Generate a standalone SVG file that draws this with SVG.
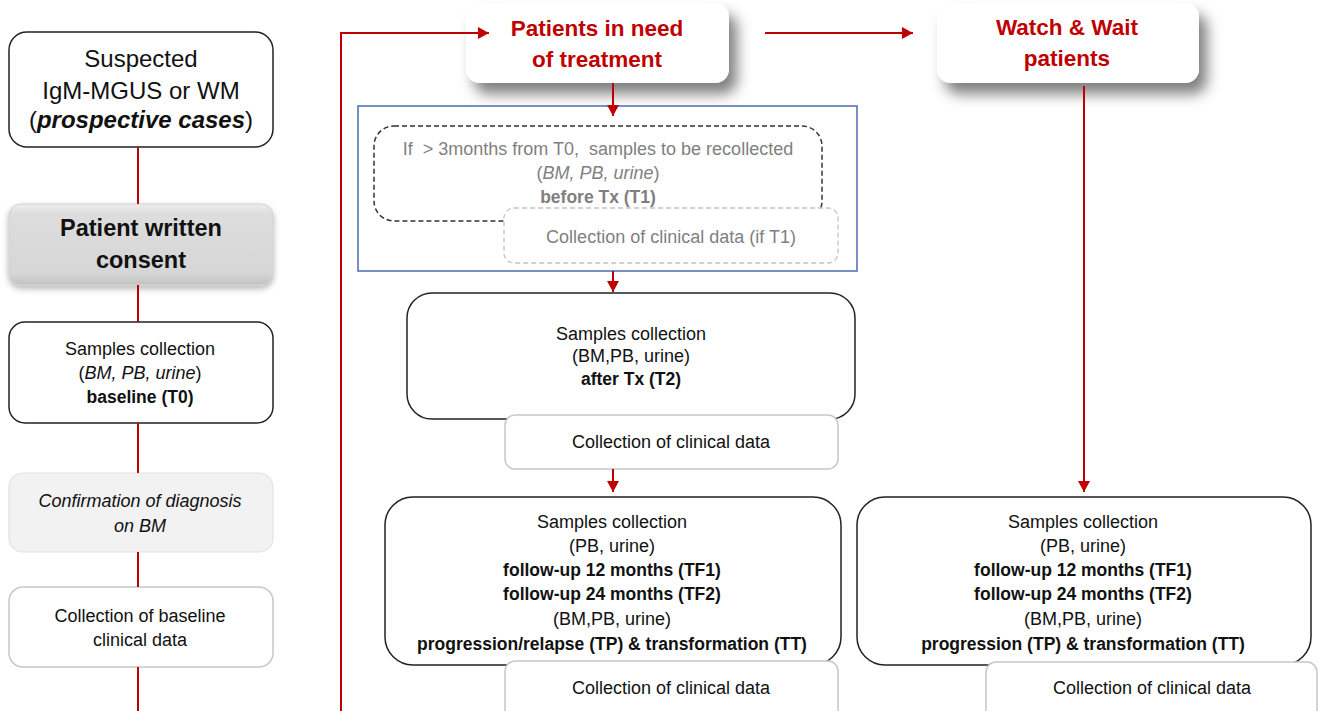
<svg xmlns="http://www.w3.org/2000/svg" width="1318" height="711" viewBox="0 0 1318 711">
<defs>
<style>
text{font-family:"Liberation Sans",Arial,sans-serif;text-anchor:middle;fill:#111}
.t24{font-size:24px}
.t18{font-size:18px}
.b{font-weight:bold}
.bs{font-weight:bold;font-size:17.5px}
.it{font-style:italic}
.red{fill:#c00000;font-weight:bold;font-size:22.5px}
.gray{fill:#7f7f7f}
.box{fill:#fff;stroke:#222;stroke-width:1.5}
.soft{fill:#fff;stroke:#c8c8c8;stroke-width:1.5}
.conn{stroke:#c00000;stroke-width:2;fill:none}
</style>
<marker id="ah" markerUnits="userSpaceOnUse" markerWidth="12" markerHeight="12" refX="11" refY="6" orient="auto">
<path d="M0,0 L11,6 L0,12 z" fill="#c00000"/>
</marker>
<filter id="sh" x="-20%" y="-30%" width="150%" height="200%">
<feDropShadow dx="8" dy="11" stdDeviation="7" flood-color="#000" flood-opacity="0.5"/>
</filter>
<filter id="sh2" x="-10%" y="-20%" width="130%" height="160%">
<feDropShadow dx="0" dy="3" stdDeviation="3" flood-color="#000" flood-opacity="0.3"/>
</filter>
<linearGradient id="gg" x1="0" y1="0" x2="0" y2="1">
<stop offset="0" stop-color="#eeeeee"/>
<stop offset="0.12" stop-color="#dddddd"/>
<stop offset="0.85" stop-color="#d6d6d6"/>
<stop offset="1" stop-color="#c2c2c2"/>
</linearGradient>
</defs>

<g id="suspected">
<rect class="box" x="9" y="32" width="264" height="115" rx="18"/>
<text class="t24" x="141" y="67">Suspected</text>
<text class="t24" x="141" y="99">IgM-MGUS or WM</text>
<text class="t24" x="141" y="128">(<tspan class="b it">prospective cases</tspan>)</text>
</g>

<g id="consent">
<rect x="9" y="204" width="264" height="81" rx="12" fill="url(#gg)" stroke="#d0d0d0" stroke-width="1" filter="url(#sh2)"/>
<text class="b" style="font-size:23.5px" x="141" y="236">Patient written</text>
<text class="b" style="font-size:23.5px" x="141" y="268">consent</text>
</g>

<g id="baseline-samples">
<rect class="box" x="9" y="322" width="264" height="101" rx="16"/>
<text class="t18" x="140" y="355">Samples collection</text>
<text class="t18" x="140" y="379">(<tspan class="it">BM, PB, urine</tspan>)</text>
<text class="bs" x="140" y="403">baseline (T0)</text>
</g>

<g id="confirmation">
<rect x="9" y="473" width="264" height="79" rx="14" fill="#f2f2f2" stroke="#e2e2e2" stroke-width="1.2"/>
<text class="t18 it" x="140" y="507">Confirmation of diagnosis</text>
<text class="t18 it" x="140" y="532">on BM</text>
</g>

<g id="baseline-clinical">
<rect class="soft" x="9" y="587" width="264" height="80" rx="14"/>
<text class="t18" x="140" y="622">Collection of baseline</text>
<text class="t18" x="140" y="646">clinical data</text>
</g>

<g id="patients-treatment">
<rect x="466" y="3" width="263" height="80" rx="14" fill="#fff" filter="url(#sh)"/>
<text class="red" x="597" y="36">Patients in need</text>
<text class="red" x="597" y="67">of treatment</text>
</g>

<g id="watch-wait">
<rect x="937" y="3" width="262" height="80" rx="14" fill="#fff" filter="url(#sh)"/>
<text class="red" x="1067" y="35">Watch &amp; Wait</text>
<text class="red" x="1067" y="66">patients</text>
</g>

<g id="t1-group">
<rect x="358" y="106" width="499" height="165" fill="#fff" stroke="#4a6cb0" stroke-width="1.5"/>
<rect x="374" y="126" width="448" height="95" rx="20" fill="none" stroke="#333" stroke-width="1.5" stroke-dasharray="5,3"/>
<text class="t18 gray" x="598" y="155" xml:space="preserve">If  &gt; 3months from T0,  samples to be recollected</text>
<text class="t18 gray" x="598" y="179">(<tspan class="it">BM, PB, urine</tspan>)</text>
<text class="bs gray" x="598" y="203">before Tx (T1)</text>
<rect x="504" y="208" width="334" height="55" rx="10" fill="#fff" stroke="#c4c4c4" stroke-width="1.3" stroke-dasharray="5,3"/>
<text class="t18 gray" x="671" y="243">Collection of clinical data (if T1)</text>
</g>

<g id="t2">
<rect class="box" x="407" y="293" width="448" height="126" rx="25"/>
<text class="t18" x="631" y="340">Samples collection</text>
<text class="t18" x="631" y="362">(BM,PB, urine)</text>
<text class="bs" x="631" y="385">after Tx (T2)</text>
</g>

<g id="t2-clinical">
<rect class="soft" x="505" y="415" width="333" height="54" rx="10"/>
<text class="t18" x="671" y="448">Collection of clinical data</text>
</g>

<g id="followup-treated">
<rect class="box" x="385" y="497" width="456" height="168" rx="28"/>
<text class="t18" x="612" y="528">Samples collection</text>
<text class="t18" x="612" y="552">(PB, urine)</text>
<text class="bs" x="612" y="576">follow-up 12 months (TF1)</text>
<text class="bs" x="612" y="600">follow-up 24 months (TF2)</text>
<text class="t18" x="612" y="625">(BM,PB, urine)</text>
<text class="bs" x="612" y="650">progression/relapse (TP) &amp; transformation (TT)</text>
</g>

<g id="followup-treated-clinical">
<rect class="soft" x="505" y="661" width="333" height="70" rx="10"/>
<text class="t18" x="671" y="694">Collection of clinical data</text>
</g>

<g id="followup-ww">
<rect class="box" x="857" y="497" width="454" height="168" rx="28"/>
<text class="t18" x="1083" y="528">Samples collection</text>
<text class="t18" x="1083" y="552">(PB, urine)</text>
<text class="bs" x="1083" y="576">follow-up 12 months (TF1)</text>
<text class="bs" x="1083" y="600">follow-up 24 months (TF2)</text>
<text class="t18" x="1083" y="625">(BM,PB, urine)</text>
<text class="bs" x="1083" y="650">progression (TP) &amp; transformation (TT)</text>
</g>

<g id="followup-ww-clinical">
<rect class="soft" x="986" y="662" width="331" height="70" rx="10"/>
<text class="t18" x="1152" y="694">Collection of clinical data</text>
</g>

<g id="connectors">
<line class="conn" x1="138" y1="147" x2="138" y2="204"/>
<line class="conn" x1="138" y1="285" x2="138" y2="322"/>
<line class="conn" x1="138" y1="423" x2="138" y2="473"/>
<line class="conn" x1="138" y1="552" x2="138" y2="587"/>
<line class="conn" x1="138" y1="667" x2="138" y2="711"/>
<polyline class="conn" points="341,711 341,33 489,33" marker-end="url(#ah)"/>
<line class="conn" x1="765" y1="33" x2="913" y2="33" marker-end="url(#ah)"/>
<line class="conn" x1="613" y1="83" x2="613" y2="116" marker-end="url(#ah)"/>
<line class="conn" x1="613" y1="271" x2="613" y2="292" marker-end="url(#ah)"/>
<line class="conn" x1="613" y1="469" x2="613" y2="492" marker-end="url(#ah)"/>
<line class="conn" x1="1084" y1="86" x2="1084" y2="492" marker-end="url(#ah)"/>
</g>
</svg>
